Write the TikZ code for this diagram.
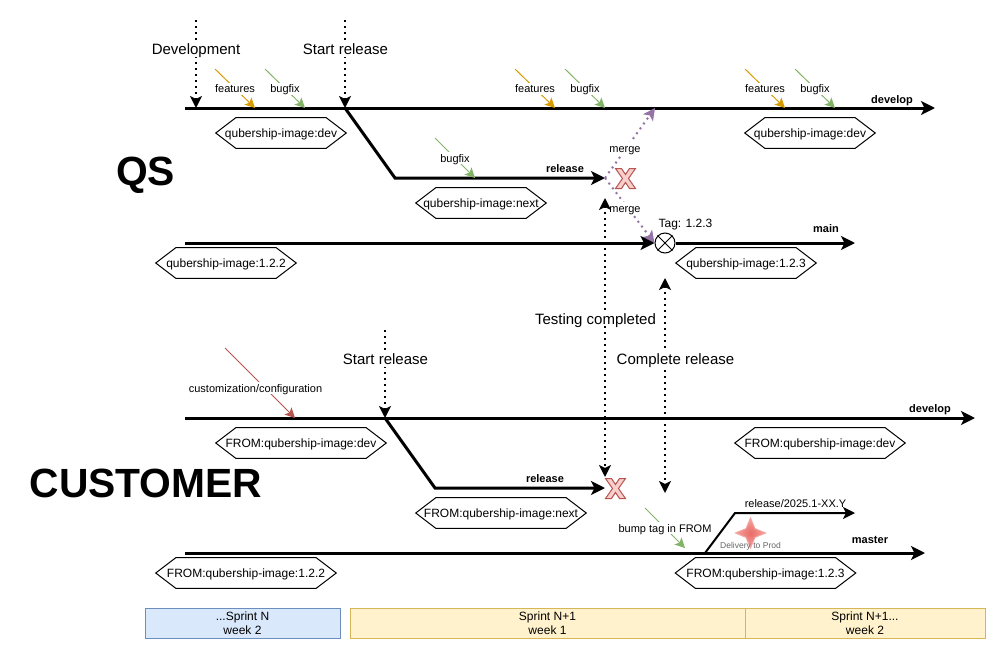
\documentclass[tikz,border=0pt]{standalone}
\usepackage{fontspec}
\setmainfont{Liberation Sans}
\usepackage{xcolor}
\usetikzlibrary{arrows.meta}
\usetikzlibrary{calc}
\usetikzlibrary{positioning}
\usetikzlibrary{shapes.geometric}
\definecolor{tickorange}{HTML}{D79B00}
\definecolor{tickgreen}{HTML}{82B366}
\definecolor{tickred}{HTML}{B85450}
\definecolor{mergepurple}{HTML}{9673A6}
\definecolor{xfill}{HTML}{F8CECC}
\definecolor{starfill}{HTML}{EA6B66}
\definecolor{staredge}{HTML}{F4A5A1}
\definecolor{sprintblue}{HTML}{DAE8FC}
\definecolor{sprintblueline}{HTML}{6C8EBF}
\definecolor{sprintyellow}{HTML}{FFF2CC}
\definecolor{sprintyellowline}{HTML}{D6B656}
\tikzset{
	gitflow/.style = {
		x=0.75pt,y=-0.75pt,>={Stealth[length=10.5pt,width=10.5pt,inset=2.6pt]},
	},
	branch/.style = {->,line width=2.25pt},
	thinbranch/.style = {->,line width=1.5pt,>={Stealth[length=9pt,width=9pt,inset=2.2pt]},line join=miter},
	marker/.style = {<-,line width=1.5pt,dash pattern=on 1.5pt off 3pt,>={Stealth[length=9pt,width=9pt,inset=2.2pt]}},
	twoway/.style = {<->,line width=1.5pt,dash pattern=on 1.5pt off 3pt,>={Stealth[length=9pt,width=9pt,inset=2.2pt]}},
	tick/.style = {->,line width=0.75pt,>={Stealth[length=7.5pt,width=7.5pt,inset=1.8pt]}},
	mergeline/.style = {->,color=mergepurple,line width=1.5pt,dash pattern=on 1.5pt off 3pt,>={Stealth[length=9pt,width=9pt,inset=2.2pt]}},
	big/.style = {font=\fontsize{11.25}{13.5}\selectfont,fill=white,inner sep=1.5pt,text height=8.2pt,text depth=0pt},
	small/.style = {font=\fontsize{8.25}{10}\selectfont,fill=white,inner sep=1.5pt,text height=6pt,text depth=0pt},
	plain/.style = {font=\fontsize{8.25}{10}\selectfont,inner sep=1pt,text height=6pt,text depth=0pt},
	plainbold/.style = {font=\fontsize{8.25}{10}\bfseries\selectfont,inner sep=1pt,text height=6pt,text depth=0pt},
	taglabel/.style = {font=\fontsize{9}{11}\selectfont,inner sep=1pt,text height=6.6pt,text depth=0pt},
	title/.style = {font=\fontsize{30.6}{36}\bfseries\selectfont,inner sep=0pt},
	image/.style = {minimum height=22.5pt,inner sep=0pt,font=\fontsize{9}{11}\selectfont,text height=6.6pt,text depth=0.4pt,
		append after command={\pgfextra{\let\imgnode\tikzlastnode
			\draw[line width=0.75pt] (\imgnode.west) -- ($(\imgnode.north west)+(15pt,0)$)
			-- ($(\imgnode.north east)+(-15pt,0)$) -- (\imgnode.east)
			-- ($(\imgnode.south east)+(-15pt,0)$) -- ($(\imgnode.south west)+(15pt,0)$) -- cycle;
		}}},
	sprint/.style = {draw,line width=0.75pt,minimum height=22.5pt,inner sep=0pt,align=center,font=\fontsize{9}{10.5}\selectfont},
	pics/redx/.style = {code={
		\draw[fill=xfill,draw=tickred,line width=0.75pt,line join=miter]
		(-10,-10) -- (-4,-10) -- (0,-4) -- (4,-10) -- (10,-10) -- (3,0) -- (10,10) -- (4,10)
		-- (0,4) -- (-4,10) -- (-10,10) -- (-3,0) -- cycle;
	}},
}

\begin{document}
\begin{tikzpicture}[gitflow]
	\useasboundingbox (0,0) rectangle (993,668);

	% titles
	\node[title] (qs) at (145.5,175.5) {QS};
	\node[title] (customer) at (146,483) {CUSTOMER};

	% QS develop
	\coordinate (qdevstart) at (185,108);
	\coordinate (qdevend) at (935,108);
	\coordinate (qdevelopment) at (196,108);
	\coordinate (qstart) at (345,108);
	\coordinate (qmergein) at (655,108);
	\draw[branch] (qdevstart) -- (qdevend);
	\node[plainbold] (qdevlabel) at (892,99) {develop};

	\coordinate (devtop) at (196,18);
	\coordinate (starttop) at (345,18);
	\draw[marker] (qdevelopment) -- (devtop);
	\draw[marker] (qstart) -- (starttop);
	\node[big] (devlabel) at (196,49.5) {Development};
	\node[big] (startlabel) at (345.5,49.5) {Start release};

	\coordinate (f1a) at (215,69);
	\coordinate (f1b) at (255,108);
	\coordinate (b1a) at (265,69);
	\coordinate (b1b) at (305,108);
	\coordinate (f2a) at (515,69);
	\coordinate (f2b) at (555,108);
	\coordinate (b2a) at (565,69);
	\coordinate (b2b) at (605,108);
	\coordinate (f3a) at (745,69);
	\coordinate (f3b) at (785,108);
	\coordinate (b3a) at (795,69);
	\coordinate (b3b) at (835,108);
	\draw[tick,tickorange] (f1a) -- node[small,text=black] (f1) {features} (f1b);
	\draw[tick,tickgreen] (b1a) -- node[small,text=black] (b1) {bugfix} (b1b);
	\draw[tick,tickorange] (f2a) -- node[small,text=black] (f2) {features} (f2b);
	\draw[tick,tickgreen] (b2a) -- node[small,text=black] (b2) {bugfix} (b2b);
	\draw[tick,tickorange] (f3a) -- node[small,text=black] (f3) {features} (f3b);
	\draw[tick,tickgreen] (b3a) -- node[small,text=black] (b3) {bugfix} (b3b);

	\node[image,minimum width=97.5pt] (qimgdev) at (281,133) {qubership-image:dev};
	\node[image,minimum width=97.5pt] (qimgdev2) at (810,133) {qubership-image:dev};

	% QS release
	\coordinate (qrelbend) at (395,178);
	\coordinate (qrelend) at (605,178);
	\draw[branch,line join=miter] (qstart) -- (qrelbend) -- (qrelend);
	\node[plainbold] (qrellabel) at (565,168) {release};
	\coordinate (b4a) at (435,138);
	\coordinate (b4b) at (475,178);
	\draw[tick,tickgreen] (b4a) -- node[small,text=black] (b4) {bugfix} (b4b);
	\node[image,minimum width=97.5pt] (qimgnext) at (481,203) {qubership-image:next};
	\pic (qx) at (625.5,178.5) {redx};

	% QS main and merges
	\coordinate (qmainstart) at (185,243);
	\coordinate (qmainend) at (855,243);
	\node[circle,draw,line width=0.75pt,fill=white,minimum size=15pt,inner sep=0pt] (tag) at (665,243) {};
	\draw[mergeline] (qrelend) -- (qmergein);
	\draw[mergeline] (qrelend) -- (tag.west);
	\node[small] (mergeup) at (625,148) {merge};
	\node[small] (mergedown) at (625,208) {merge};
	\draw[branch] (qmainstart) -- (tag.west);
	\draw[branch] (tag.east) -- (qmainend);
	\draw[line width=0.75pt] (tag.north west) -- (tag.south east);
	\draw[line width=0.75pt] (tag.north east) -- (tag.south west);
	\node[plainbold] (qmainlabel) at (826,228) {main};
	\node[taglabel] (qtaglabel) at (685.5,223) {Tag: 1.2.3};
	\node[image,minimum width=105pt] (qimg122) at (226,263) {qubership-image:1.2.2};
	\node[image,minimum width=105pt] (qimg123) at (746,263) {qubership-image:1.2.3};

	% CUSTOMER develop
	\coordinate (cdevstart) at (185,418);
	\coordinate (cdevend) at (975,418);
	\coordinate (cstart) at (385,418);
	\coordinate (cstarttop) at (385,328);
	\draw[branch] (cdevstart) -- (cdevend);
	\node[plainbold] (cdevlabel) at (930,408) {develop};
	\draw[marker] (cstart) -- (cstarttop);
	\node[big] (cstartlabel) at (385.5,359.5) {Start release};
	\coordinate (ca) at (225,348);
	\coordinate (cb) at (295,418);
	\draw[tick,tickred] (ca) -- (cb);
	\node[small] (custom) at (255.5,388) {customization/configuration};
	\node[image,minimum width=127.5pt] (cimgdev) at (301,443) {FROM:qubership-image:dev};
	\node[image,minimum width=127.5pt] (cimgdev2) at (820,443) {FROM:qubership-image:dev};

	% CUSTOMER release
	\coordinate (crelbend) at (435,488);
	\coordinate (crelend) at (605,488);
	\draw[branch,line join=miter] (cstart) -- (crelbend) -- (crelend);
	\node[plainbold] (crellabel) at (545,478) {release};
	\node[image,minimum width=127.5pt] (cimgnext) at (501,513) {FROM:qubership-image:next};
	\pic (cx) at (615.5,488.5) {redx};

	% testing and complete release
	\coordinate (testtop) at (605,198);
	\coordinate (testbottom) at (605,477);
	\coordinate (completetop) at (665,278);
	\coordinate (completebottom) at (665,493);
	\draw[twoway] (testtop) -- (testbottom);
	\draw[twoway] (completetop) -- (completebottom);
	\node[big] (testing) at (595.5,319) {Testing completed};
	\node[big] (complete) at (675.5,359) {Complete release};

	% CUSTOMER master
	\node[star,star points=4,star point ratio=2.4,draw=staredge,inner color=starfill,outer color=staredge,line width=0.75pt,
		minimum size=22.5pt,inner sep=0pt] (delivery) at (750.5,533) {};
	\coordinate (cmasterstart) at (185,553);
	\coordinate (cmasterend) at (925,553);
	\coordinate (cbranch) at (705,553);
	\coordinate (cbranchbend) at (735,513);
	\coordinate (cbranchend) at (855,513);
	\draw[branch] (cmasterstart) -- (cmasterend);
	\draw[thinbranch] (cbranch) -- (cbranchbend) -- (cbranchend);
	\node[plain] (cbranchlabel) at (795.5,503) {release/2025.1-XX.Y};
	\node[plainbold] (cmasterlabel) at (870,539) {master};
	\node[font=\fontsize{6.4}{8}\selectfont,text=black!60,inner sep=0pt] (deliverylabel) at (750.5,546) {Delivery to Prod};
	\coordinate (ba) at (645,508);
	\coordinate (bb) at (685,548);
	\draw[tick,tickgreen] (ba) -- node[small,text=black] (bump) {bump tag in FROM} (bb);
	\node[image,minimum width=135pt] (cimg122) at (246,573) {FROM:qubership-image:1.2.2};
	\node[image,minimum width=135pt] (cimg123) at (765.5,573) {FROM:qubership-image:1.2.3};

	% sprints
	\node[sprint,fill=sprintblue,draw=sprintblueline,minimum width=146.25pt] (sprintn) at (242.5,623) {...Sprint N\\week 2};
	\node[sprint,fill=sprintyellow,draw=sprintyellowline,minimum width=296.25pt] (sprintone) at (547.5,623) {Sprint N+1\\week 1};
	\node[sprint,fill=sprintyellow,draw=sprintyellowline,minimum width=180pt] (sprinttwo) at (865,623) {Sprint N+1...\\week 2};
\end{tikzpicture}
\end{document}
